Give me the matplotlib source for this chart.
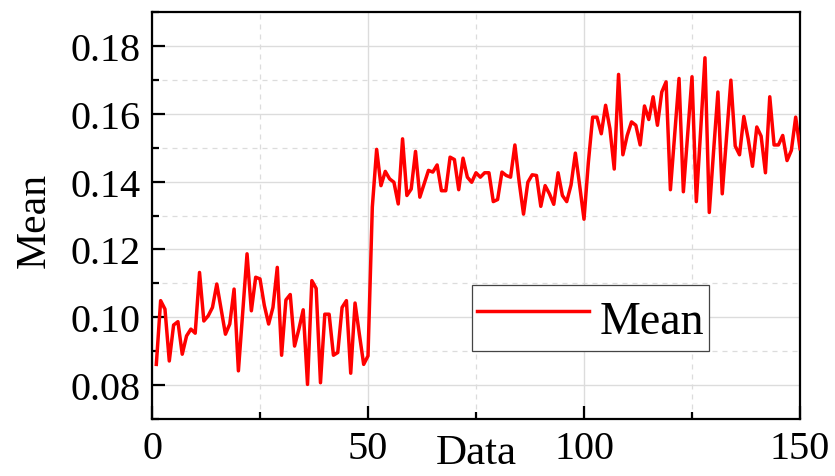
import matplotlib
matplotlib.use("Agg")
import matplotlib.pyplot as plt
from matplotlib.ticker import MultipleLocator
import numpy as np

x_values = list(range(1, 151))
mean_values = [
    0.0861, 0.1049, 0.1024, 0.0871, 0.0977, 0.0987, 0.0891, 0.0945, 0.0965, 0.0953,
    0.1132, 0.0989, 0.1004, 0.1029, 0.1098, 0.1024, 0.0950, 0.0980, 0.1083, 0.0842,
    0.1015, 0.1187, 0.1019, 0.1118, 0.1113, 0.1035, 0.0980, 0.1029, 0.1147, 0.0888,
    0.1051, 0.1067, 0.0915, 0.0965, 0.1022, 0.0802, 0.1108, 0.1085, 0.0807, 0.1009,
    0.1009, 0.0888, 0.0896, 0.1029, 0.1049, 0.0835, 0.1042, 0.0950, 0.0861, 0.0886,
    0.1325, 0.1495, 0.1388, 0.1430, 0.1408, 0.1398, 0.1334, 0.1526, 0.1359, 0.1378,
    0.1489, 0.1354, 0.1393, 0.1433, 0.1428, 0.1449, 0.1373, 0.1373, 0.1472, 0.1465,
    0.1376, 0.1469, 0.1413, 0.1398, 0.1426, 0.1413, 0.1426, 0.1426, 0.1341, 0.1347,
    0.1428, 0.1418, 0.1413, 0.1508, 0.1398, 0.1304, 0.1398, 0.1420, 0.1418, 0.1327,
    0.1388, 0.1364, 0.1333, 0.1426, 0.1359, 0.1341, 0.1390, 0.1484, 0.1388, 0.1289,
    0.1455, 0.1590, 0.1590, 0.1541, 0.1625, 0.1556, 0.1437, 0.1716, 0.1479, 0.1536,
    0.1576, 0.1566, 0.1508, 0.1623, 0.1583, 0.1650, 0.1566, 0.1664, 0.1694, 0.1376,
    0.1540, 0.1704, 0.1370, 0.1540, 0.1709, 0.1341, 0.1550, 0.1765, 0.1309, 0.1490,
    0.1664, 0.1364, 0.1530, 0.1699, 0.1505, 0.1479, 0.1592, 0.1526, 0.1445, 0.1561,
    0.1534, 0.1426, 0.1650, 0.1508, 0.1508, 0.1536, 0.1462, 0.1492, 0.1590, 0.1497,
]
x_ticks = [0, 50, 100, 150]
y_ticks = [0.08, 0.10, 0.12, 0.14, 0.16, 0.18]
y_tick_labels = ["0.08", "0.10", "0.12", "0.14", "0.16", "0.18"]

plt.rcParams['font.family'] = ['Liberation Serif', 'DejaVu Serif']

fig = plt.figure(figsize=(8.35, 4.77), dpi=100)
ax = fig.add_axes([152/835, 1-420/477, 648/835, 407/477])

ax.plot(x_values, mean_values, color='#ff0000', lw=2.5, label='Mean', zorder=3)

ax.set_xlim(0, 150)
ax.set_ylim(0.07, 0.19)
ax.set_xticks(x_ticks)
ax.set_xticklabels([str(t) for t in x_ticks])
ax.set_yticks(y_ticks)
ax.set_yticklabels(y_tick_labels)
ax.xaxis.set_minor_locator(MultipleLocator(25))
ax.yaxis.set_minor_locator(MultipleLocator(0.01))

ax.grid(which='major', color='#dcdcdc', lw=1.0, ls='-', zorder=0)
ax.grid(which='minor', color='#dcdcdc', lw=0.9, ls=(0, (4, 4)), zorder=0)
ax.set_axisbelow(True)

for s in ax.spines.values():
    s.set_linewidth(1.6)
    s.set_color('black')

ax.tick_params(which='major', direction='in', length=9.5, width=1.6, labelsize=29, pad=8)
ax.tick_params(which='minor', direction='in', length=5, width=1.6)
ax.tick_params(top=False, right=False, which='both')

ax.set_xlabel('Data', fontsize=31)
ax.xaxis.set_label_coords(0.5, -0.035)
ax.set_ylabel('Mean', fontsize=30)
ax.yaxis.set_label_coords(-0.152, 0.49)

leg = ax.legend(loc='upper left', bbox_to_anchor=(0.494, 0.329), borderaxespad=0,
                fontsize=33, handlelength=2.45, handleheight=1.52, handletextpad=0.24,
                borderpad=0.1, fancybox=False, edgecolor='#444444', framealpha=1)
leg.get_frame().set_linewidth(0.9)

fig.savefig('out.png', dpi=100)
